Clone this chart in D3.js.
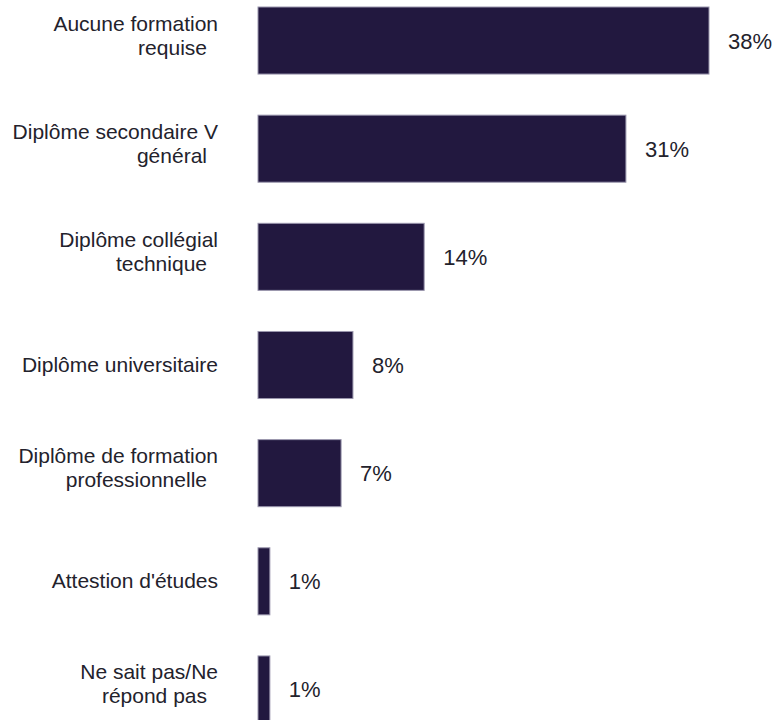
<!DOCTYPE html>
<html>
<head>
<meta charset="utf-8">
<script src="https://cdn.jsdelivr.net/npm/d3@7"></script>
<style>
  body { margin: 0; background: #fff; }
  text { font-family: "Liberation Sans", Arial, Helvetica, sans-serif; fill: #23222c; }
</style>
</head>
<body>
<svg id="chart"></svg>
<script>
// categories (wrapped lines) and percentages
const categories = [
	["Aucune formation", "requise"],
	["Diplôme secondaire V", "général"],
	["Diplôme collégial", "technique"],
	["Diplôme universitaire"],
	["Diplôme de formation", "professionnelle"],
	["Attestion d'études"],
	["Ne sait pas/Ne", "répond pas"]
];
const values = [38, 31, 14, 8, 7, 1, 1];
const valueLabels = ["38%", "31%", "14%", "8%", "7%", "1%", "1%"];

const w = 780;
const h = 720;
const left = 258;

const svg = d3.select("#chart").attr("width", w).attr("height", h);

const yScale = d3
	.scaleBand()
	.domain(d3.range(values.length))
	.range([7, 723])
	.paddingInner(0.38)
	.paddingOuter(0);

const xScale = d3
	.scaleLinear()
	.domain([0, 38])
	.range([left, 709]);

svg
	.selectAll("rect.bar")
	.data(values)
	.enter()
	.append("rect")
	.attr("class", "bar")
	.attr("x", xScale(0))
	.attr("y", (d, i) => yScale(i))
	.attr("width", (d) => xScale(d) - xScale(0))
	.attr("height", yScale.bandwidth())
	.attr("fill", "#22183f")
	.attr("stroke", "#9a96ad")
	.attr("stroke-width", 1);

// value labels
svg
	.selectAll("text.val")
	.data(values)
	.enter()
	.append("text")
	.attr("class", "val")
	.attr("x", (d) => xScale(d) + 19)
	.attr("y", (d, i) => yScale(i) + yScale.bandwidth() / 2 + 8)
	.attr("font-size", 22)
	.text((d, i) => valueLabels[i]);

// category labels
const cat = svg
	.selectAll("text.cat")
	.data(categories)
	.enter()
	.append("text")
	.attr("class", "cat")
	.attr("text-anchor", "end")
	.attr("font-size", 21)
	.attr("y", (d, i) => {
		const c = yScale(i) + yScale.bandwidth() / 2;
		return d.length > 1 ? c - 10 : c + 7;
	});

cat
	.selectAll("tspan")
	.data((d) => d)
	.enter()
	.append("tspan")
	.attr("x", (d, i) => (i === 0 ? 218 : 207))
	.attr("dy", (d, i) => (i === 0 ? 0 : 24))
	.text((d) => d);
</script>
</body>
</html>
